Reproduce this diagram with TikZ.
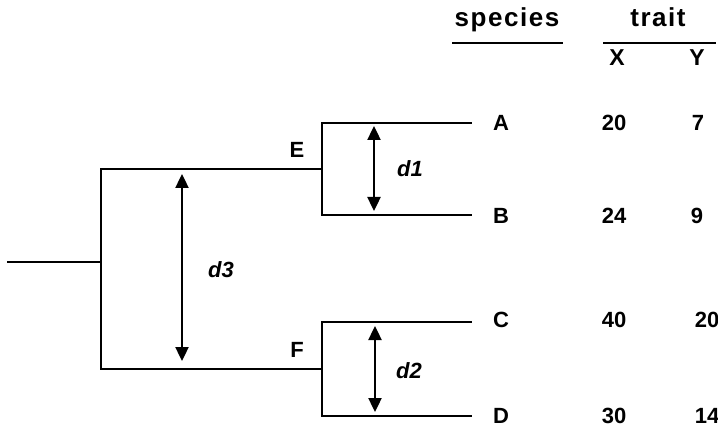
\documentclass[tikz,border=0pt]{standalone}
\usepackage{fontspec}
\setmainfont{Liberation Sans}
\usetikzlibrary{positioning, arrows.meta, calc}

\begin{document}
\begin{tikzpicture}[
    x=1pt, y=-1pt,
    font={\fontsize{22}{26}\selectfont\bfseries},
    branch/.style={line width=2.4pt, line cap=rect},
    dist/.style={line width=2.4pt, {Triangle[length=14pt, width=13pt]}-{Triangle[length=14pt, width=13pt]}},
    lbl/.style={inner sep=0pt, anchor=center},
    head/.style={inner sep=0pt, anchor=base, font={\fontsize{26}{30}\selectfont\bfseries\addfontfeature{LetterSpace=6}}}
]
\useasboundingbox (0,0) rectangle (718,433);

% Knoten des Baums
\coordinate (root) at (8,262);
\coordinate (n0)   at (101,262);
\coordinate (E)    at (322,169);
\coordinate (F)    at (322,369);
\coordinate (tA)   at (471,123);
\coordinate (tB)   at (471,215);
\coordinate (tC)   at (471,322);
\coordinate (tD)   at (471,416);

% Äste
\draw[branch] (root) -- (n0);
\draw[branch] (E) -- (n0 |- E) -- (n0 |- F) -- (F);
\draw[branch] (tA) -- (E |- tA) -- (E |- tB) -- (tB);
\draw[branch] (tC) -- (F |- tC) -- (F |- tD) -- (tD);

% innere Knoten
\node[lbl] (labE) at (297,150) {E};
\node[lbl] (labF) at (297,350) {F};

% Abstände
\coordinate (d1top) at (374,126);
\coordinate (d1bot) at (374,211);
\draw[dist] (d1top) -- (d1bot);
\node[lbl] (d1) at (410,169) {\itshape d1};

\coordinate (d2top) at (375,326);
\coordinate (d2bot) at (375,412);
\draw[dist] (d2top) -- (d2bot);
\node[lbl] (d2) at (409,371) {\itshape d2};

\coordinate (d3top) at (182,174);
\coordinate (d3bot) at (182,361);
\draw[dist] (d3top) -- (d3bot);
\node[lbl] (d3) at (221,270) {\itshape d3};

% Kopfzeile
\node[head] (species) at (507,27) {species};
\node[head] (trait)   at (658,27) {trait};
\draw[line width=2.4pt] (452,43) -- (563,43);
\draw[line width=2.4pt] (603,43) -- (716,43);
\node[lbl, font={\fontsize{23}{27}\selectfont\bfseries}] (X) at (617,58) {X};
\node[lbl, font={\fontsize{23}{27}\selectfont\bfseries}] (Y) at (697,58) {Y};

% Arten und Merkmale
\foreach \name/\yy/\xv/\yv/\ypos in {A/123/20/7/698, B/216/24/9/697, C/320/40/20/707, D/416/30/14/707} {
    \node[lbl] (sp\name) at (501,\yy) {\name};
    \node[lbl] (x\name)  at (614,\yy) {\xv};
    \node[lbl] (y\name)  at (\ypos,\yy) {\yv};
}

\end{tikzpicture}
\end{document}
